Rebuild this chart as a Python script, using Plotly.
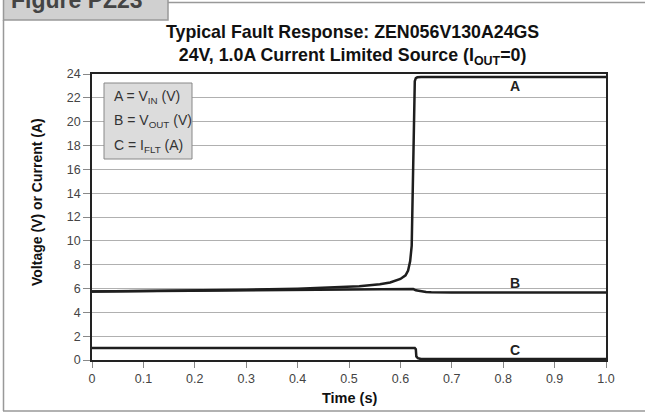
import plotly.graph_objects as go

# ---- data ----
t_a = [0, 0.1, 0.2, 0.3, 0.4, 0.48, 0.52, 0.56, 0.58, 0.60, 0.61, 0.615, 0.619,
       0.622, 0.624, 0.626, 0.627, 0.628, 0.630, 0.633, 0.64, 1.0]
v_a = [5.75, 5.78, 5.83, 5.9, 5.98, 6.1, 6.18, 6.35, 6.5, 6.8, 7.1, 7.5, 8.3,
       9.6, 14, 20, 22.8, 23.4, 23.65, 23.72, 23.75, 23.75]

t_b = [0, 0.2, 0.4, 0.6, 0.62, 0.625, 0.63, 0.64, 0.65, 0.66, 0.7, 1.0]
v_b = [5.75, 5.82, 5.9, 5.97, 5.97, 5.95, 5.85, 5.75, 5.7, 5.68, 5.67, 5.67]

t_c = [0, 0.628, 0.630, 0.631, 0.634, 0.64, 1.0]
v_c = [1.0, 1.0, 0.9, 0.3, 0.15, 0.08, 0.08]

x_ticks = [0, 0.1, 0.2, 0.3, 0.4, 0.5, 0.6, 0.7, 0.8, 0.9, 1.0]
x_tick_text = ["0", "0.1", "0.2", "0.3", "0.4", "0.5", "0.6", "0.7", "0.8", "0.9", "1.0"]
y_ticks = [0, 2, 4, 6, 8, 10, 12, 14, 16, 18, 20, 22, 24]

curve_labels = ["A", "B", "C"]
label_t = [0.823, 0.823, 0.823]
label_v = [23.0, 6.45, 0.84]

legend_lines = ["A = V<sub>IN</sub> (V)", "B = V<sub>OUT</sub> (V)", "C = I<sub>FLT</sub> (A)"]

W, H = 645, 417
L, R, T, B = 92, 606, 74, 360


def px(x):
    return (x - L) / (R - L)


def py(y):
    return (B - y) / (B - T)


FONT = "Liberation Sans, Arial, sans-serif"
LINE = "#1e1e1e"

fig = go.Figure()
for tx, vy in ((t_a, v_a), (t_b, v_b), (t_c, v_c)):
    fig.add_trace(go.Scatter(x=tx, y=vy, mode="lines",
                             line=dict(color=LINE, width=2.5),
                             showlegend=False, hoverinfo="skip"))

anns = []
for lab, lx, ly in zip(curve_labels, label_t, label_v):
    anns.append(dict(x=lx, y=ly, xref="x", yref="y", text="<b>%s</b>" % lab,
                     showarrow=False, font=dict(family=FONT, size=14, color="#222")))

for i, txt in enumerate(legend_lines):
    anns.append(dict(x=px(112), y=py(97 + i * 24.5), xref="paper", yref="paper",
                     text=txt, showarrow=False, xanchor="left", yanchor="middle",
                     font=dict(family=FONT, size=14, color="#333")))

anns += [
    dict(x=px(352), y=py(45), xref="paper", yref="paper",
         text="<b>Typical Fault Response: ZEN056V130A24GS<br>"
              "24V, 1.0A Current Limited Source (I<sub>OUT</sub>=0)</b>",
         showarrow=False, xanchor="center", yanchor="middle",
         font=dict(family=FONT, size=17.8, color="#111")),
    dict(x=px(37), y=py(202), xref="paper", yref="paper",
         text="<b>Voltage (V) or Current (A)</b>", textangle=-90,
         showarrow=False, xanchor="center", yanchor="middle",
         font=dict(family=FONT, size=14, color="#111")),
    dict(x=px(350), y=py(398), xref="paper", yref="paper",
         text="<b>Time (s)</b>", showarrow=False, xanchor="center", yanchor="middle",
         font=dict(family=FONT, size=14.5, color="#111")),
    dict(x=px(9), y=py(15), xref="paper", yref="paper",
         text="<b>Figure PZ23</b>", showarrow=False, xanchor="left", yanchor="bottom",
         font=dict(family=FONT, size=23, color="#444")),
]

shapes = [
    # tab
    dict(type="rect", xref="paper", yref="paper", x0=px(3.5), x1=px(168),
         y0=py(20), y1=py(-8), fillcolor="#d0d0d0", line=dict(color="#999", width=1.5), layer="below"),
    # frame
    dict(type="line", xref="paper", yref="paper", x0=px(3.5), x1=px(3.5),
         y0=py(20), y1=py(411), line=dict(color="#999", width=1.5)),
    dict(type="line", xref="paper", yref="paper", x0=px(168), x1=px(646),
         y0=py(2.5), y1=py(2.5), line=dict(color="#999", width=1.5)),
    dict(type="line", xref="paper", yref="paper", x0=px(3), x1=px(646),
         y0=py(411), y1=py(411), line=dict(color="#999", width=1.5)),
    # legend box
    dict(type="rect", xref="paper", yref="paper", x0=px(104), x1=px(192),
         y0=py(159), y1=py(83), fillcolor="#dcdcdc", line=dict(color="#888", width=1)),
]

fig.update_layout(
    width=W, height=H,
    margin=dict(l=L, r=W - R, t=T, b=H - B),
    paper_bgcolor="white", plot_bgcolor="white",
    annotations=anns, shapes=shapes,
    xaxis=dict(range=[0, 1], tickvals=x_ticks, ticktext=x_tick_text,
               showgrid=False, zeroline=False, showline=True, mirror=True,
               linecolor="#222", linewidth=1.5, ticks="outside", ticklen=6,
               tickcolor="#888", tickfont=dict(family=FONT, size=12.5, color="#444")),
    yaxis=dict(range=[0, 24], tickvals=y_ticks, showgrid=True, gridcolor="#b0b0b0",
               gridwidth=1, zeroline=False, showline=True, mirror=True,
               linecolor="#222", linewidth=1.5, ticks="outside", ticklen=7,
               tickcolor="#888", tickfont=dict(family=FONT, size=12.5, color="#444")),
)

fig.write_html("out.html", config={"displayModeBar": False},
               post_script="document.body.style.margin='0';")
